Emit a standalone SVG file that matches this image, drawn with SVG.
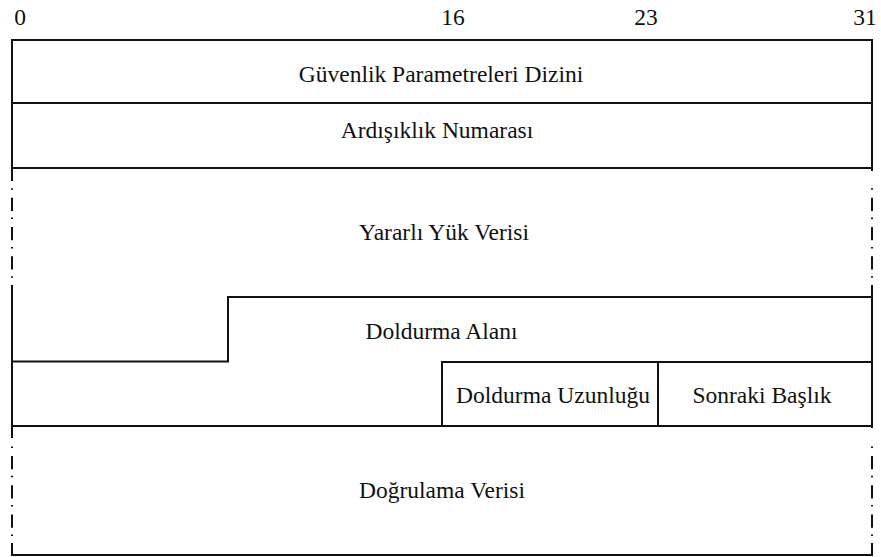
<svg xmlns="http://www.w3.org/2000/svg" width="881" height="557" viewBox="0 0 881 557">
  <style>
    .ln { stroke: #111; stroke-width: 2; fill: none; }
    .dd { stroke: #111; stroke-width: 2; fill: none; stroke-dasharray: 1.5 7.9 13.3 6.6; }
    text { font-family: "Liberation Serif", Tinos, "Times New Roman", Times, "DejaVu Serif", serif; font-size: 23.5px; fill: #111; text-anchor: middle; }
  </style>
  <rect width="881" height="557" fill="#fff"/>

  <!-- bit offsets -->
  <g id="bit-scale">
    <text x="20" y="25">0</text>
    <text x="453" y="25">16</text>
    <text x="646" y="25">23</text>
    <text x="865" y="25">31</text>
  </g>

  <g id="spi">
    <line class="ln" x1="11" y1="40" x2="873" y2="40"/>
    <text x="441" y="82">Güvenlik Parametreleri Dizini</text>
  </g>

  <g id="sequence-number">
    <line class="ln" x1="12" y1="103" x2="872" y2="103"/>
    <text x="437" y="138">Ardışıklık Numarası</text>
  </g>

  <g id="payload">
    <line class="ln" x1="12" y1="168" x2="872" y2="168"/>
    <text x="444" y="240">Yararlı Yük Verisi</text>
  </g>

  <g id="padding">
    <path class="ln" d="M12 361.5 H228 V297 H872"/>
    <text x="441.5" y="339">Doldurma Alanı</text>
  </g>

  <g id="pad-length">
    <path class="ln" d="M442 426 V362 H872"/>
    <text x="553" y="403">Doldurma Uzunluğu</text>
  </g>

  <g id="next-header">
    <line class="ln" x1="658" y1="362" x2="658" y2="426"/>
    <text x="762" y="403">Sonraki Başlık</text>
  </g>

  <g id="icv">
    <line class="ln" x1="12" y1="426" x2="872" y2="426"/>
    <line class="ln" x1="11" y1="555" x2="873" y2="555"/>
    <text x="442" y="498">Doğrulama Verisi</text>
  </g>

  <!-- outer edges: solid where fixed-size, dash-dot where variable-length -->
  <g id="edges">
    <line class="ln" x1="12" y1="40" x2="12" y2="181"/>
    <line class="dd" x1="12" y1="188.3" x2="12" y2="285"/>
    <line class="ln" x1="12" y1="285" x2="12" y2="438"/>
    <line class="dd" x1="12" y1="446.5" x2="12" y2="543"/>
    <line class="ln" x1="12" y1="543" x2="12" y2="555"/>

    <line class="ln" x1="872" y1="40" x2="872" y2="171"/>
    <line class="dd" x1="872" y1="188.3" x2="872" y2="285"/>
    <line class="ln" x1="872" y1="285" x2="872" y2="428"/>
    <line class="dd" x1="872" y1="446.5" x2="872" y2="543"/>
    <line class="ln" x1="872" y1="543" x2="872" y2="555"/>
  </g>
</svg>
